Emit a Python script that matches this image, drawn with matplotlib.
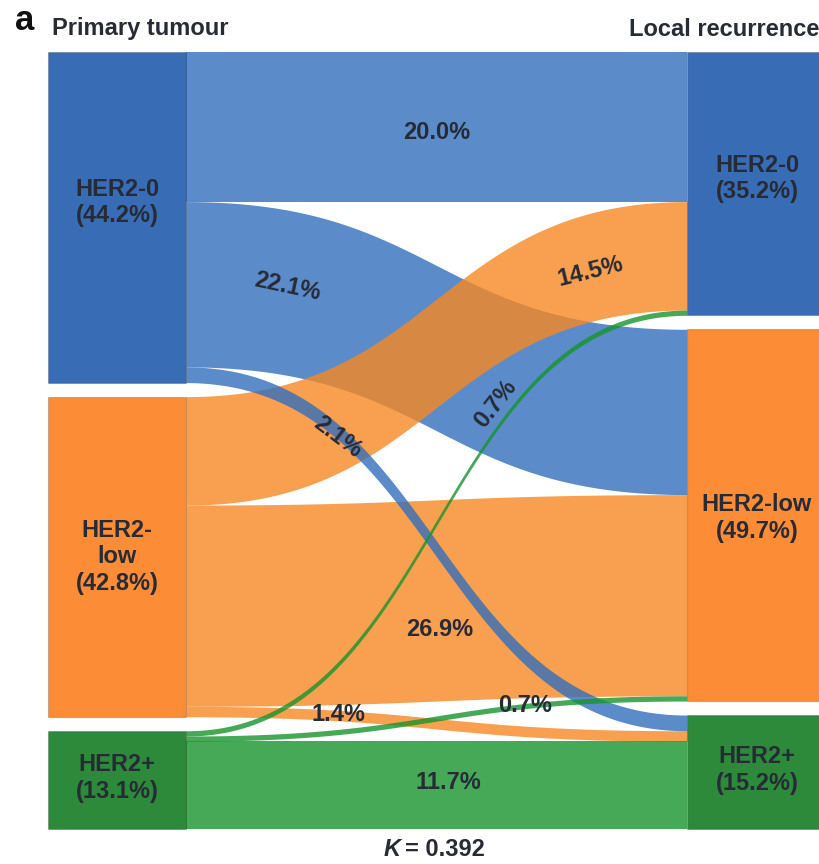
import numpy as np
import matplotlib.pyplot as plt
from matplotlib.patches import Rectangle

plt.rcParams['font.family'] = ['Liberation Sans', 'DejaVu Sans']

# HER2 status, primary tumour -> local recurrence (% of patients)
categories = ["HER2-0", "HER2-low", "HER2+"]
node_labels = ["HER2-0", "HER2-\nlow", "HER2+"]
right_node_labels = ["HER2-0", "HER2-low", "HER2+"]
flows = np.array([
    [20.0, 22.1, 2.1],   # from HER2-0
    [14.5, 26.9, 1.4],   # from HER2-low
    [0.7, 0.7, 11.7],    # from HER2+
])
primary_pct = [44.2, 42.8, 13.1]
recurrence_pct = [35.2, 49.7, 15.2]
kappa = 0.392

node_colors = ["#386cb4", "#fc8c35", "#2d8a3a"]
flow_colors = ["#326fbc", "#f78923", "#17942d"]
text_color = "#262b36"
FS = 17

# layout (pixel units of the figure)
TOP, GAP = 52, 14
SCALE = (828 - TOP - 2 * GAP) / 100.0
LX0, LX1 = 48, 186
RX0, RX1 = 687, 822

fig = plt.figure(figsize=(8.2, 8.64), dpi=100)
ax = fig.add_axes([0, 0, 1, 1])
ax.set_xlim(0, 820)
ax.set_ylim(864, 0)
ax.axis("off")


def stack(sizes):
    tops, y = [], TOP
    for s in sizes:
        tops.append(y)
        y += s * SCALE + GAP
    return tops


left_tops = stack(primary_pct)
right_tops = stack(recurrence_pct)

# band offsets inside each node
src_off = {}
for i in range(3):
    y = left_tops[i]
    for j in range(3):
        src_off[(i, j)] = y
        y += flows[i, j] * SCALE
dst_off = {}
for j in range(3):
    y = right_tops[j]
    for i in range(3):
        dst_off[(i, j)] = y
        y += flows[i, j] * SCALE

u = np.linspace(0, 1, 300)
xs = LX1 + (RX0 - LX1) * (1.5 * u * (1 - u) + u ** 3)
ys = 3 * u ** 2 - 2 * u ** 3


def band(i, j):
    h = flows[i, j] * SCALE
    y0, y1 = src_off[(i, j)], dst_off[(i, j)]
    top = y0 + (y1 - y0) * ys
    return top, top + h


def centre_at(i, j, x):
    top, bot = band(i, j)
    return np.interp(x, xs, (top + bot) / 2)


order = [(0, 0), (0, 1), (1, 0), (1, 1), (1, 2), (0, 2), (2, 2), (2, 0), (2, 1)]
for i, j in order:
    top, bot = band(i, j)
    ax.fill_between(xs, top, bot, color=flow_colors[i], alpha=0.8, lw=0)

# nodes
left_label_dy = [-15, 0, -2]
right_label_dy = [-5, 3, -2]
for k in range(3):
    h = primary_pct[k] * SCALE
    ax.add_patch(Rectangle((LX0, left_tops[k]), LX1 - LX0, h,
                           facecolor=node_colors[k], edgecolor="#00000030", lw=0.8))
    ax.text((LX0 + LX1) / 2, left_tops[k] + h / 2 + left_label_dy[k],
            f"{node_labels[k]}\n({primary_pct[k]}%)", ha="center", va="center",
            fontsize=FS, fontweight="bold", color=text_color, linespacing=1.2)
    h = recurrence_pct[k] * SCALE
    ax.add_patch(Rectangle((RX0, right_tops[k]), RX1 - RX0, h,
                           facecolor=node_colors[k], edgecolor="#00000030", lw=0.8))
    ax.text(757, right_tops[k] + h / 2 + right_label_dy[k],
            f"{right_node_labels[k]}\n({recurrence_pct[k]}%)", ha="center", va="center",
            fontsize=FS, fontweight="bold", color=text_color, linespacing=1.2)

# flow labels: (source, target, x, offset from band centre, rotation)
flow_label_pos = [
    (0, 0, 437, 6, 0),
    (0, 1, 287, -6, -12),
    (1, 0, 590, 4, 14),
    (0, 2, 338, 5, -37),
    (2, 0, 496, -25, 52),
    (1, 1, 440, 29, 0),
    (1, 2, 338, -1, 0),
    (2, 1, 525, -1, 0),
    (2, 2, 448, -2, 0),
]
for i, j, x, dy, rot in flow_label_pos:
    ax.text(x, centre_at(i, j, x) + dy, f"{flows[i, j]:.1f}%", ha="center", va="center",
            rotation=rot, rotation_mode="anchor", fontsize=FS, fontweight="bold",
            color=text_color)

ax.text(15, 20, "a", ha="left", va="center", fontsize=25, fontweight="bold", color="#111111")
ax.text(52, 29, "Primary tumour", ha="left", va="center", fontsize=FS,
        fontweight="bold", color=text_color)
ax.text(819, 29, "Local recurrence", ha="right", va="center", fontsize=FS,
        fontweight="bold", color=text_color)
ax.text(401, 850, "K", ha="right", va="center", fontsize=FS, fontweight="bold",
        fontstyle="italic", color=text_color)
ax.text(405, 850, f"= {kappa}", ha="left", va="center", fontsize=FS,
        fontweight="bold", color=text_color)

fig.savefig("out.png", dpi=100, facecolor="white")
